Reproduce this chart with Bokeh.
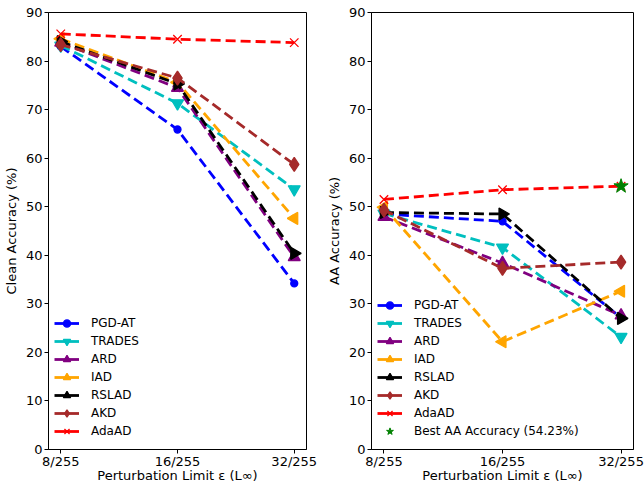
import math
from bokeh.plotting import figure
from bokeh.layouts import row
from bokeh.models import FixedTicker, Legend, LegendItem, Range1d
from bokeh.embed import file_html
from bokeh.resources import INLINE

# ---- data ----
eps_pos = [0, 1, 2]
eps_labels = ["8/255", "16/255", "32/255"]
methods = ["PGD-AT", "TRADES", "ARD", "IAD", "RSLAD", "AKD", "AdaAD"]

clean_pgd = [83.0, 65.9, 34.2]
clean_trades = [83.2, 71.3, 53.6]
clean_ard = [83.8, 74.5, 39.6]
clean_iad = [84.6, 75.6, 47.6]
clean_rslad = [84.0, 75.3, 40.4]
clean_akd = [83.4, 76.5, 58.7]
clean_adaad = [85.6, 84.5, 83.8]

aa_pgd = [48.5, 47.0, 27.1]
aa_trades = [48.6, 41.6, 23.2]
aa_ard = [47.9, 38.4, 27.6]
aa_iad = [49.9, 22.2, 32.6]
aa_rslad = [48.8, 48.5, 27.0]
aa_akd = [49.3, 37.3, 38.6]
aa_adaad = [51.5, 53.5, 54.23]

best_aa_x = [2]
best_aa_y = [54.23]
best_label = "Best AA Accuracy (54.23%)"

y_ticks = [0, 10, 20, 30, 40, 50, 60, 70, 80, 90]

clean_series = [clean_pgd, clean_trades, clean_ard, clean_iad, clean_rslad, clean_akd, clean_adaad]
aa_series = [aa_pgd, aa_trades, aa_ard, aa_iad, aa_rslad, aa_akd, aa_adaad]

# ---- styles ----
colors = ["#0000FF", "#00BFBF", "#800080", "#FFA500", "#000000", "#A52A2A", "#FF0000"]
markers = ["circle", "inverted_triangle", "triangle", "triangle", "triangle", "diamond", "x"]
angles = [0, 0, 0, math.pi / 2, -math.pi / 2, 0, 0]
sizes = [7, 12, 12, 12, 12, 14, 12]

FONT = "DejaVu Sans"
NAN = float("nan")


def make_fig(series, ylabel, width, left_border, right_border, star=False):
    p = figure(width=width, height=485, output_backend="svg",
               toolbar_location=None, min_border_left=left_border,
               min_border_right=right_border, min_border_top=12, min_border_bottom=33,
               x_range=Range1d(-0.105, 2.105), y_range=Range1d(0, 90))
    p.xgrid.visible = False
    p.ygrid.visible = False
    p.outline_line_color = "black"
    p.outline_line_alpha = 1.0
    p.background_fill_color = "white"
    p.border_fill_color = "white"

    p.xaxis.ticker = FixedTicker(ticks=eps_pos)
    p.xaxis.major_label_overrides = {i: l for i, l in zip(eps_pos, eps_labels)}
    p.yaxis.ticker = FixedTicker(ticks=y_ticks)
    for ax in (p.xaxis, p.yaxis):
        ax.major_label_text_font = FONT
        ax.major_label_text_font_size = "13px"
        ax.major_label_text_color = "black"
        ax.axis_label_text_font = FONT
        ax.axis_label_text_font_size = "13px"
        ax.axis_label_text_font_style = "normal"
        ax.axis_label_text_color = "black"
        ax.major_tick_in = 0
        ax.major_tick_out = 4
        ax.minor_tick_line_color = None
        ax.axis_line_color = "black"
        ax.major_tick_line_color = "black"
    p.xaxis.major_label_standoff = 0
    p.xaxis.axis_label_standoff = -4
    p.yaxis.major_label_standoff = 2
    p.yaxis.axis_label_standoff = 4
    p.xaxis.axis_label = "Perturbation Limit \u03b5 (L\u221e)"
    p.yaxis.axis_label = ylabel

    items = []
    for name, ys, c, m, a, s in zip(methods, series, colors, markers, angles, sizes):
        p.line(eps_pos, ys, line_color=c, line_width=2.8, line_dash="10 5")
        p.scatter(eps_pos, ys, marker=m, angle=a, size=s, fill_color=c,
                  line_color=c, line_width=1.3)
        # legend-only renderers (solid handle), nothing visible in the plot area
        lr = p.line([NAN, NAN], [NAN, NAN], line_color=c, line_width=2.8)
        sr = p.scatter([NAN], [NAN], marker=m, angle=a, size=s, fill_color=c,
                       line_color=c, line_width=1.3)
        items.append(LegendItem(label=name, renderers=[lr, sr]))
    if star:
        st = p.scatter(best_aa_x, best_aa_y, marker="star", size=15,
                       fill_color="#008000", line_color="#008000")
        items.append(LegendItem(label=best_label, renderers=[st]))

    leg = Legend(items=items, location=(0, 3))
    leg.background_fill_alpha = 0
    leg.border_line_alpha = 0
    leg.label_text_font = FONT
    leg.label_text_font_size = "12px"
    leg.label_text_color = "black"
    leg.label_height = 18
    leg.glyph_height = 18
    leg.glyph_width = 25
    leg.label_standoff = 12
    leg.spacing = 0
    leg.margin = 0
    leg.padding = 6
    p.add_layout(leg)
    return p


p1 = make_fig(clean_series, "Clean Accuracy (%)", 321, 44, 15)
p2 = make_fig(aa_series, "AA Accuracy (%)", 323, 50, 11, star=True)

layout = row(p1, p2)
open("out.html", "w").write(file_html(layout, INLINE))
